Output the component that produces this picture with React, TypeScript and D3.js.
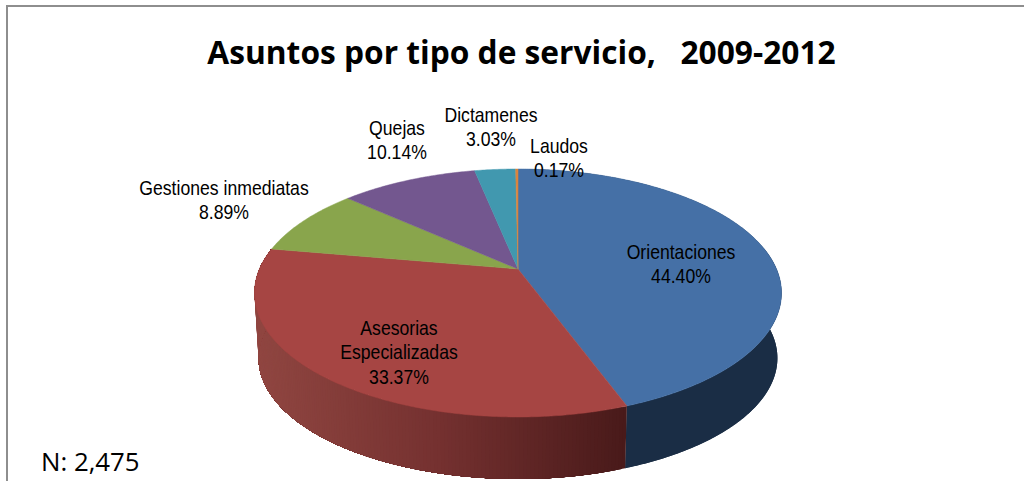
import React from "react";
import * as d3 from "d3";

const categories = ["Orientaciones", "Asesorias\nEspecializadas", "Gestiones inmediatas", "Quejas", "Dictamenes", "Laudos"];
const shares = [44.4, 33.37, 8.89, 10.14, 3.03, 0.17];
const topColors = ["#4570a6", "#a64543", "#89a54c", "#73578f", "#4198af", "#db843d"];
const titleText = "Asuntos por tipo de servicio,   2009-2012";
const noteText = "N: 2,475";
const labelAnchors: [number, number][] = [[681, 259], [399, 335], [224, 195], [397, 135], [491, 122], [559, 153]];

const W = 1024, H = 481;
const cx = 518;
const topPlane = { cy: 269, a: 258.5, b: 119.35 };
const lowPlane = { cy: 334.7, a: 254.5, b: 116.4 };
const k = 0.1935;

type Plane = typeof topPlane;
const project = (p: Plane, t: number): [number, number] => {
  const u = Math.sin(t), v = -Math.cos(t), w = 1 - k * v;
  return [cx + (p.a * u) / w, p.cy + (p.b * v) / w];
};
const line = d3.line<[number, number]>();
const pct = d3.format(".2f");

const arcs = d3.pie<number>().sort(null).value((d) => d)(shares);

const samples = (a: number, b: number, step = 0.01) => {
  const n = Math.max(2, Math.ceil((b - a) / step));
  return d3.range(n + 1).map((i) => a + ((b - a) * i) / n);
};

const redShade = d3.scaleLinear<string>().domain([260, 440, 625]).range(["#904641", "#753130", "#491a1a"]);

export default function App() {
  const wallStrips: { d: string; fill: string }[] = [];
  // Each strip runs from its own angle to the slice's end, so later strips paint over earlier ones with no seams.
  const wallOf = (a: number, b: number, step: number, color: (x: number) => string) => {
    const ts = samples(a, b, step);
    ts.slice(0, -1).forEach((t) => {
      const run = samples(t, b, 0.01);
      const pts = [...run.map((q) => project(topPlane, q)), ...run.slice().reverse().map((q) => project(lowPlane, q))];
      wallStrips.push({ d: line(pts) + "Z", fill: color(project(lowPlane, t)[0]) });
    });
  };
  wallOf(arcs[0].startAngle, arcs[0].endAngle, 10, () => "#1a2d45");
  wallOf(arcs[1].startAngle, arcs[1].endAngle, 0.012, (x) => redShade(x));

  return (
    <svg width={W} height={H} viewBox={`0 0 ${W} ${H}`} style={{ position: "absolute", left: 0, top: 0, display: "block", background: "#fff" }}>
      <path d={`M7 ${H}V6H${W}`} fill="none" stroke="#8e8e8e" strokeWidth={2} />
      <text x={521.5} y={63.5} textAnchor="middle" fontFamily="'Open Sans'" fontWeight={700} fontSize={31.7} fill="#000" style={{ whiteSpace: "pre" }}>
        {titleText}
      </text>
      {wallStrips.map((s, i) => (
        <path key={i} d={s.d} fill={s.fill} />
      ))}
      {arcs.map((a, i) => {
        const rim = samples(a.startAngle, a.endAngle).map((t) => project(topPlane, t));
        const d = line([[cx, topPlane.cy], ...rim]) + "Z";
        return <path key={i} d={d} fill={topColors[i]} stroke={topColors[i]} strokeWidth={0.5} />;
      })}
      {categories.map((c, i) => {
        const [lx, ly] = labelAnchors[i];
        const lines = [...c.split("\n"), `${pct(shares[i])}%`];
        return (
          <text key={c} transform={`translate(${lx},${ly}) scale(0.86,1)`} textAnchor="middle" fontFamily="'Liberation Sans'" fontSize={20.5} fill="#000">
            {lines.map((t, j) => (
              <tspan key={j} x={0} y={j * 24.3}>{t}</tspan>
            ))}
          </text>
        );
      })}
      <text x={41} y={471} fontFamily="'Open Sans'" fontSize={25.8} fill="#000">{noteText}</text>
    </svg>
  );
}
